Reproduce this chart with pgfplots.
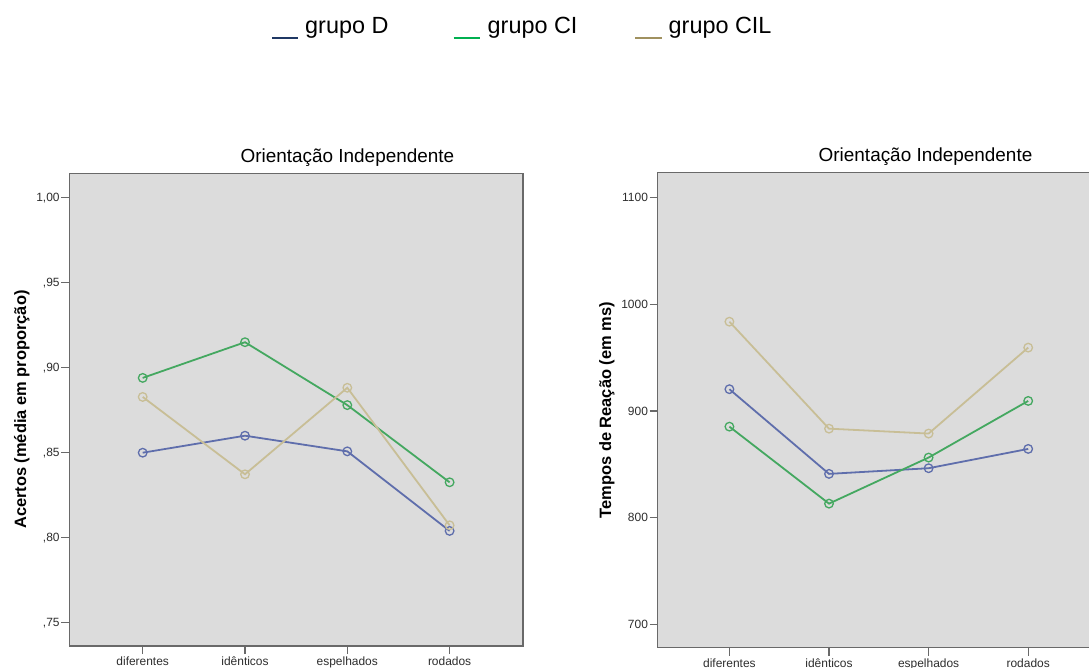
\documentclass[border=0pt]{standalone}
\usepackage{pgfplots}
\pgfplotsset{compat=1.18}
\usepackage{fontspec}
\setmainfont{Liberation Sans}

\definecolor{bgGray}{RGB}{220,220,220}
\definecolor{frameGray}{RGB}{105,105,105}
\definecolor{tickGray}{RGB}{45,45,45}
\definecolor{lineD}{RGB}{95,110,172}
\definecolor{lineCI}{RGB}{68,168,96}
\definecolor{lineCIL}{RGB}{200,190,150}
\definecolor{legD}{RGB}{31,56,100}
\definecolor{legCI}{RGB}{0,176,80}
\definecolor{legCIL}{RGB}{160,145,95}

\pgfplotsset{
  spss/.style={
    scale only axis,
    axis background/.style={fill=bgGray},
    axis line style={draw=frameGray, line width=1.5bp},
    tick style={draw=frameGray, line width=1.2bp},
    tick align=outside,
    major tick length=8bp,
    xtick pos=bottom, ytick pos=left,
    xtick={0,1,2,3},
    xticklabels={diferentes,idênticos,espelhados,rodados},
    ticklabel style={font=\fontsize{12}{14}\selectfont, text=tickGray},
    xticklabel style={inner sep=2.5bp},
    yticklabel style={inner sep=1.5bp},
    title style={anchor=base, yshift=5bp, font=\fontsize{19}{21}\selectfont},
    ylabel style={anchor=base, font=\bfseries\fontsize{16.5}{18}\selectfont},
    every axis plot/.append style={line width=1.8bp, mark=o, mark size=4.3bp,
      mark options={line width=1.3bp}},
  }
}

\begin{document}
\begin{tikzpicture}
\path[use as bounding box] (0,0) rectangle (1089bp,-668bp);

% legend
\draw[legD, line width=2.4bp] (272bp,-38bp) -- (298bp,-38bp);
\node[anchor=base west, inner sep=0, font=\fontsize{23.5}{26}\selectfont] at (305bp,-33.5bp) {grupo D};
\draw[legCI, line width=2.4bp] (453.5bp,-38bp) -- (480bp,-38bp);
\node[anchor=base west, inner sep=0, font=\fontsize{23.5}{26}\selectfont] at (487.5bp,-33.5bp) {grupo CI};
\draw[legCIL, line width=2.4bp] (635bp,-38bp) -- (662bp,-38bp);
\node[anchor=base west, inner sep=0, font=\fontsize{23.5}{26}\selectfont] at (668.5bp,-33.5bp) {grupo CIL};

% left: accuracy
\begin{axis}[spss,
  at={(69.3bp,-646bp)}, anchor=south west,
  width=453.7bp, height=472.7bp,
  xmin=-0.7175, xmax=3.7175,
  ymin=0.7363, ymax=1.01435,
  ytick={0.75,0.80,0.85,0.90,0.95,1.00},
  yticklabels={{,75},{,80},{,85},{,90},{,95},{1,00}},
  title={Orientação Independente},
  title style={at={(axis description cs:0.613,1)}},
  ylabel={Acertos (média em proporção)},
  ylabel style={at={(axis description cs:-0.0954,0.5)}},
]
\addplot[lineD] coordinates {(0,0.850) (1,0.860) (2,0.8508) (3,0.804)};
\addplot[lineCI] coordinates {(0,0.894) (1,0.915) (2,0.878) (3,0.8326)};
\addplot[lineCIL] coordinates {(0,0.8828) (1,0.8373) (2,0.8882) (3,0.8073)};
\end{axis}

% right: reaction times
\begin{axis}[spss,
  at={(657.6bp,-647.7bp)}, anchor=south west,
  width=442.4bp, height=475bp,
  xmin=-0.721, xmax=3.721,
  ymin=678, ymax=1123.4,
  ytick={700,800,900,1000,1100},
  yticklabels={700,800,900,1000,1100},
  title={Orientação Independente},
  title style={at={(axis description cs:0.6056,1)}},
  ylabel={Tempos de Reação (em ms)},
  ylabel style={at={(axis description cs:-0.1053,0.5)}},
]
\addplot[lineD] coordinates {(0,920.4) (1,841) (2,846.3) (3,864.4)};
\addplot[lineCI] coordinates {(0,885.3) (1,813.1) (2,856.3) (3,909.4)};
\addplot[lineCIL] coordinates {(0,983.7) (1,883.4) (2,878.8) (3,959.4)};
\end{axis}
\end{tikzpicture}
\end{document}
